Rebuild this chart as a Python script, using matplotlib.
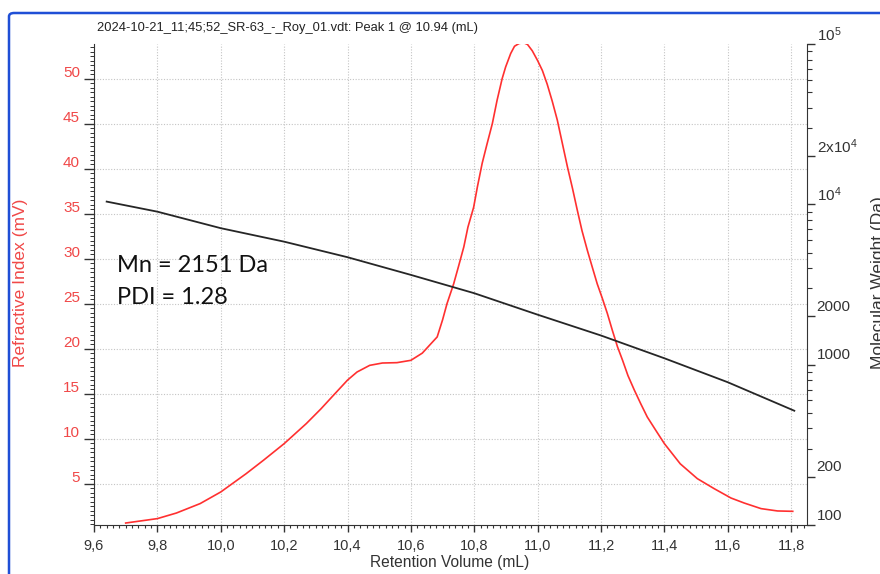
import matplotlib
matplotlib.use("Agg")
import matplotlib.pyplot as plt
import matplotlib.ticker as mticker
from matplotlib.patches import FancyBboxPatch
from matplotlib.transforms import ScaledTranslation

# =========================
# DATOS
# =========================

TITLE = "2024-10-21_11;45;52_SR-63_-_Roy_01.vdt: Peak 1 @ 10.94 (mL)"

# señal de índice de refracción (mV)
ri_x = [9.70, 9.80, 9.86, 9.935, 10.0, 10.08, 10.135, 10.2, 10.27, 10.316, 10.35,
        10.40, 10.43, 10.47, 10.51, 10.556, 10.60, 10.636, 10.683, 10.70, 10.714,
        10.735, 10.75, 10.767, 10.78, 10.798, 10.81, 10.825, 10.84, 10.857, 10.872,
        10.888, 10.899, 10.915, 10.927, 10.941, 10.955, 10.968, 10.983, 11.0,
        11.015, 11.03, 11.046, 11.062, 11.078, 11.094, 11.11, 11.125, 11.14,
        11.157, 11.172, 11.188, 11.204, 11.22, 11.236, 11.252, 11.268, 11.285,
        11.305, 11.325, 11.346, 11.375, 11.40, 11.45, 11.504, 11.557, 11.61,
        11.652, 11.705, 11.757, 11.805]
ri_y = [0.62, 1.11, 1.73, 2.78, 4.07, 6.1, 7.6, 9.44, 11.67, 13.3, 14.6,
        16.5, 17.4, 18.14, 18.4, 18.44, 18.7, 19.5, 21.3, 23.2, 25.0,
        27.2, 29.1, 31.3, 33.5, 35.7, 38.0, 40.6, 42.7, 45.0, 47.6,
        50.0, 51.3, 52.8, 53.6, 53.9, 54.0, 53.8, 53.1, 52.0,
        50.9, 49.4, 47.5, 45.4, 42.8, 40.2, 37.8, 35.4, 33.1,
        30.9, 29.1, 27.2, 25.6, 23.9, 22.0, 20.2, 18.7, 17.0,
        15.4, 13.9, 12.4, 10.8, 9.44, 7.2, 5.55, 4.44, 3.4,
        2.84, 2.22, 1.96, 1.92]

# curva de calibración (peso molecular, Da)
mw_x = [9.64, 9.80, 10.0, 10.2, 10.4, 10.6, 10.8, 11.0, 11.2, 11.4, 11.6, 11.81]
mw_y = [10400, 9000, 7100, 5850, 4680, 3630, 2790, 2050, 1520, 1096, 777, 516]

x_ticks = [9.6, 9.8, 10.0, 10.2, 10.4, 10.6, 10.8, 11.0, 11.2, 11.4, 11.6, 11.8]
ri_ticks = [5, 10, 15, 20, 25, 30, 35, 40, 45, 50]
mw_ticks = [100, 200, 1000, 2000, 10000, 20000, 100000]
mw_labels = ["100", "200", "1000", "2000", r"$10^4$", r"2x$10^4$", r"$10^5$"]

ANNOT = ["Mn = 2151 Da", "PDI = 1.28"]

RED = "#ff3030"
LABEL_RED = "#f04848"
FONT = ["Liberation Sans", "DejaVu Sans"]

plt.rcParams["font.family"] = FONT
plt.rcParams["mathtext.fontset"] = "custom"
plt.rcParams["mathtext.rm"] = "Liberation Sans"
plt.rcParams["mathtext.it"] = "Liberation Sans"

# =========================
# FIGURA
# =========================

fig = plt.figure(figsize=(8.8, 5.74), dpi=100)
ax = fig.add_axes([94 / 880, 1 - 525 / 574, (807 - 94) / 880, (525 - 44) / 574])
ax2 = ax.twinx()

# borde azul de la ventana
fig.patches.append(FancyBboxPatch((9 / 880, -0.05), 1.0, 1.05 - 13 / 574,
                                  boxstyle="round,pad=0,rounding_size=0.006",
                                  transform=fig.transFigure, facecolor="none",
                                  edgecolor="#1f4fd6", linewidth=1.8, zorder=0))

ax.plot(ri_x, ri_y, color=RED, lw=1.2, zorder=3)
ax2.plot(mw_x, mw_y, color="#262626", lw=1.3, zorder=3)

ax.set_xlim(9.6, 11.85)
ax.set_ylim(0.4, 53.85)
ax2.set_yscale("log")
ax2.set_ylim(100, 100000)

# eje x
ax.set_xticks(x_ticks)
ax.xaxis.set_minor_locator(mticker.MultipleLocator(0.02))
ax.xaxis.set_major_formatter(mticker.FuncFormatter(lambda v, p: f"{v:.1f}".replace(".", ",")))
ax.tick_params(axis="x", which="major", direction="out", length=5, width=1, pad=5,
               labelsize=10.5, colors="#333333")
ax.tick_params(axis="x", which="minor", direction="out", length=2.5, width=0.8, colors="#333333")

# eje izquierdo (RI)
ax.set_yticks(ri_ticks)
ax.yaxis.set_minor_locator(mticker.MultipleLocator(0.5))
ax.tick_params(axis="y", which="major", direction="out", length=7, width=1, pad=3,
               labelsize=11, labelcolor=LABEL_RED, color="#333333")
ax.tick_params(axis="y", which="minor", direction="out", length=3, width=0.7, color="#333333")

# eje derecho (MW)
ax2.set_yticks(mw_ticks)
ax2.set_yticklabels(mw_labels)
ax2.yaxis.set_minor_locator(mticker.LogLocator(base=10, subs=range(2, 10)))
ax2.yaxis.set_minor_formatter(mticker.NullFormatter())
ax2.tick_params(axis="y", which="major", direction="out", length=6, width=1, pad=1,
               labelsize=11, labelcolor="#333333", color="#333333")
ax2.tick_params(axis="y", which="minor", direction="out", length=3.5, width=0.8, color="#333333")

# etiquetas un poco por encima de la marca, como en el original
up_left = ScaledTranslation(0, 7 / 100, fig.dpi_scale_trans)
up_right = ScaledTranslation(0, 11 / 100, fig.dpi_scale_trans)
for t in ax.yaxis.get_major_ticks():
    t.label1.set_transform(t.label1.get_transform() + up_left)
for t in ax2.yaxis.get_major_ticks():
    t.label2.set_transform(t.label2.get_transform() + up_right)

for side in ["top", "right"]:
    ax.spines[side].set_visible(False)
for side in ["top", "left"]:
    ax2.spines[side].set_visible(False)
ax.spines["left"].set_color("#333333")
ax.spines["bottom"].set_color("#333333")
ax2.spines["right"].set_color("#333333")
ax2.spines["bottom"].set_visible(False)

ax.grid(True, which="major", color="#c4c4c4", linestyle=(0, (1, 1.5)), linewidth=0.8)

# textos
fig.text(97 / 880, 1 - 28 / 574, TITLE, fontsize=9.3, color="#222222", ha="left", va="center")
fig.text(450 / 880, 1 - 563 / 574, "Retention Volume (mL)", fontsize=11.2,
         color="#333333", ha="center", va="center")
fig.text(20 / 880, 1 - 283 / 574, "Refractive Index (mV)", fontsize=12.5,
         color=LABEL_RED, rotation=90, ha="center", va="center")
fig.text(878 / 880, 1 - 283 / 574, "Molecular Weight (Da)", fontsize=12.5,
         color="#333333", rotation=90, ha="center", va="center")

for i, line in enumerate(ANNOT):
    fig.text(117 / 880, 1 - (265 + 33 * i) / 574, line, fontsize=17,
             family=["Lato", "DejaVu Sans"], color="#111111", ha="left", va="center")

fig.savefig("out.png", dpi=100)
